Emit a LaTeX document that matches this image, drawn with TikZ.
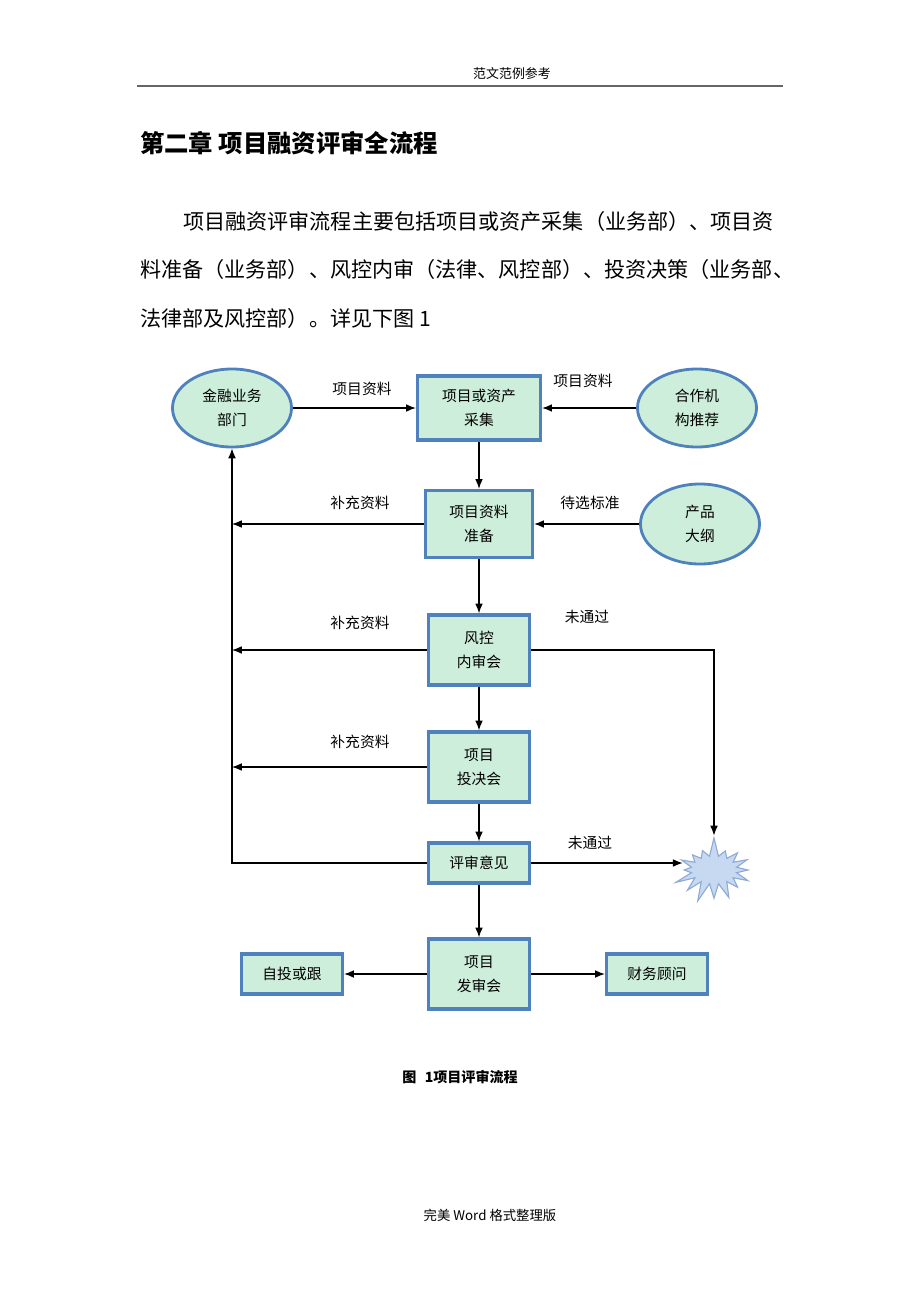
\documentclass[tikz,border=0pt]{standalone}
\usepackage{fontspec}
\setmainfont{Noto Sans CJK SC}
\usetikzlibrary{shapes.geometric,shapes.symbols,arrows.meta}
\definecolor{boxfill}{HTML}{CDEEDA}
\definecolor{boxline}{HTML}{4F81BD}
\definecolor{burstfill}{HTML}{C6D9F1}
\definecolor{burstline}{HTML}{8EAAD6}
\begin{document}
\begin{tikzpicture}[x=0.025cm,y=-0.025cm,
    box/.style={draw=boxline, line width=2.3pt, fill=boxfill, align=center,
      minimum width=2.525cm, minimum height=1.75cm, inner sep=0pt,
      font=\fontsize{10.5pt}{17pt}\selectfont},
    oval/.style={ellipse, draw=boxline, line width=2pt, fill=boxfill, align=center,
      minimum width=2.975cm, minimum height=1.95cm, inner sep=0pt,
      font=\fontsize{10.5pt}{17pt}\selectfont},
    lbl/.style={font=\fontsize{10.5pt}{13pt}\selectfont},
    arr/.style={-{Latex[length=7pt,width=5.5pt]}, line width=0.8pt},
    para/.style={anchor=west, inner sep=0pt, font=\fontsize{15pt}{18pt}\selectfont}]
    \useasboundingbox (0,0) rectangle (920,1302);
    % page head
    \node[font=\fontsize{9.2pt}{11pt}\selectfont] (head) at (512,74) {范文范例参考};
    \draw[gray!80!black, line width=1.3pt] (137,86) -- (783,86);
    \node[anchor=west, inner sep=0pt, font=\fontsize{17.3pt}{20pt}\selectfont\bfseries] (title) at (140,143) {第二章 项目融资评审全流程};
    \node[para] (p1) at (183,221) {项目融资评审流程主要包括项目或资产采集（业务部）、项目资};
    \node[para] (p2) at (140,269) {料准备（业务部）、风控内审（法律、风控部）、投资决策（业务部、};
    \node[para] (p3) at (140,318) {法律部及风控部）。详见下图 1};
    % flow chart
    \node[oval] (jr) at (232,408) {金融业务\\部门};
    \node[box, minimum width=3.075cm, minimum height=1.6cm] (cj) at (479,408) {项目或资产\\采集};
    \node[oval] (hz) at (697,408) {合作机\\构推荐};
    \node[box, minimum width=2.675cm, minimum height=1.675cm] (zb) at (479,524) {项目资料\\准备};
    \node[oval, minimum height=2cm] (cp) at (700,524) {产品\\大纲};
    \node[box] (fk) at (479,650) {风控\\内审会};
    \node[box] (tj) at (479,767) {项目\\投决会};
    \node[box, minimum height=1cm] (ps) at (479,863) {评审意见};
    \node[box] (fs) at (479,974) {项目\\发审会};
    \node[box, minimum height=1cm] (zt) at (292,974) {自投或跟};
    \node[box, minimum height=1cm] (cw) at (657,974) {财务顾问};
    \node[starburst, draw=burstline, fill=burstfill, line width=0.8pt,
      minimum width=2.15cm, minimum height=1.7cm, starburst points=16,
      starburst point height=0.5cm, random starburst=7] (sb) at (714,870) {};
    % connectors
    \draw[arr] (jr.east) -- (cj.west);
    \draw[arr] (hz.west) -- (cj.east);
    \draw[arr] (cj) -- (zb);
    \draw[arr] (cp.west) -- (zb.east);
    \draw[arr] (zb.west) -- (zb.west -| jr.south);
    \draw[arr] (zb) -- (fk);
    \draw[arr] (fk.west) -- (fk.west -| jr.south);
    \draw[arr] (fk.east) -| (sb.north);
    \draw[arr] (fk) -- (tj);
    \draw[arr] (tj.west) -- (tj.west -| jr.south);
    \draw[arr] (tj) -- (ps);
    \draw[arr] (ps.west) -| (jr.south);
    \draw[arr] (ps.east) -- (ps.east -| sb.west);
    \draw[arr] (ps) -- (fs);
    \draw[arr] (fs.west) -- (zt.east);
    \draw[arr] (fs.east) -- (cw.west);
    % labels
    \node[lbl] (l1) at (362,389) {项目资料};
    \node[lbl] (l2) at (583,381) {项目资料};
    \node[lbl] (l3) at (360,503) {补充资料};
    \node[lbl] (l4) at (590,503) {待选标准};
    \node[lbl] (l5) at (360,623) {补充资料};
    \node[lbl] (l6) at (587,617) {未通过};
    \node[lbl] (l7) at (360,742) {补充资料};
    \node[lbl] (l8) at (590,843) {未通过};
    % caption and foot
    \node[font=\fontsize{10pt}{11pt}\selectfont\bfseries] (cap) at (460,1077) {图\hspace{0.6em}1项目评审流程};
    \node[font=\fontsize{9.5pt}{11pt}\selectfont] (foot) at (490,1215) {完美 Word 格式整理版};
\end{tikzpicture}
\end{document}
